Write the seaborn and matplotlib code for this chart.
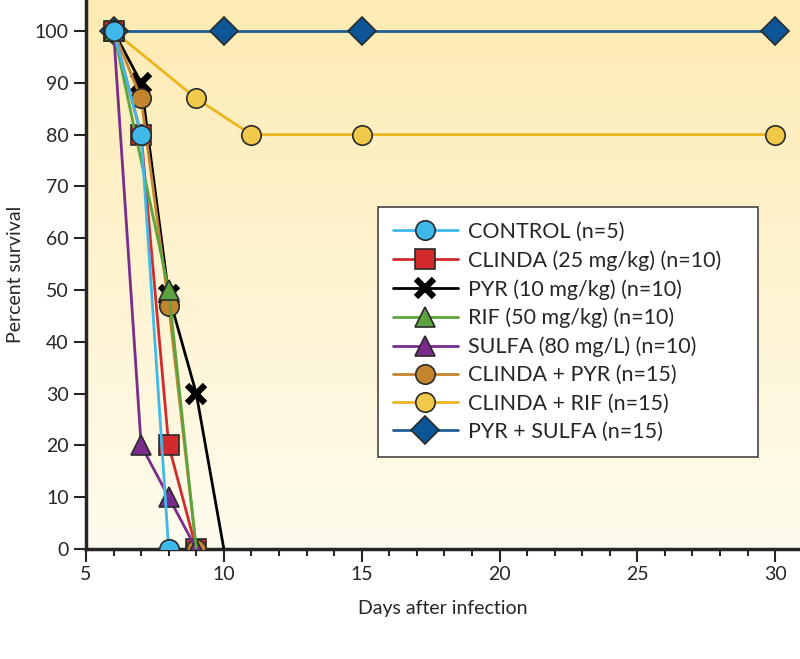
import numpy as np
import pandas as pd
import seaborn as sns
import matplotlib.pyplot as plt
from matplotlib.colors import LinearSegmentedColormap
from matplotlib.ticker import MultipleLocator

# Survival data
control_days = [6, 7, 8]
control_surv = [100, 80, 0]
clinda_days = [6, 7, 8, 9]
clinda_surv = [100, 80, 20, 0]
pyr_days = [6, 7, 8, 9, 10]
pyr_surv = [100, 90, 49, 30, 0]
rif_days = [6, 8, 9]
rif_surv = [100, 50, 0]
sulfa_days = [6, 7, 8, 9]
sulfa_surv = [100, 20, 10, 0]
clinda_pyr_days = [6, 7, 8, 9]
clinda_pyr_surv = [100, 87, 47, 0]
clinda_rif_days = [6, 9, 11, 15, 30]
clinda_rif_surv = [100, 87, 80, 80, 80]
pyr_sulfa_days = [6, 10, 15, 30]
pyr_sulfa_surv = [100, 100, 100, 100]

labels = ["CONTROL (n=5)", "CLINDA (25 mg/kg) (n=10)", "PYR (10 mg/kg) (n=10)",
          "RIF (50 mg/kg) (n=10)", "SULFA (80 mg/L) (n=10)", "CLINDA + PYR (n=15)",
          "CLINDA + RIF (n=15)", "PYR + SULFA (n=15)"]

sns.set_style("ticks")
plt.rcParams['font.family'] = ['Lato', 'DejaVu Sans']

series = [
    # days, surv, line color, face color, marker, size, zorder, markevery
    (control_days, control_surv, "#3fb8ec", "#3fb8ec", "o", 14, 10, None),
    (clinda_days, clinda_surv, "#d32a2e", "#d32a2e", "s", 14, 5, None),
    (pyr_days, pyr_surv, "#000000", "#000000", "x", 13, 4, [0, 1, 2, 3]),
    (rif_days, rif_surv, "#5ca43f", "#5ca43f", "^", 14, 8, [0, 1]),
    (sulfa_days, sulfa_surv, "#7a2c8c", "#7a2c8c", "^", 14, 7, None),
    (clinda_pyr_days, clinda_pyr_surv, "#c4852f", "#c4852f", "o", 14, 6, None),
    (clinda_rif_days, clinda_rif_surv, "#eab51f", "#f0c94b", "o", 14, 3, None),
    (pyr_sulfa_days, pyr_sulfa_surv, "#1f5e93", "#0c5597", "D", 14, 2, None),
]

fig = plt.figure(figsize=(8, 6.59), dpi=100)
ax = fig.add_axes([0.1075, 0.167, 0.8925, 0.833])

# gradient background
cmap = LinearSegmentedColormap.from_list("bg", ["#fffcee", "#fdebb3"])
grad = np.linspace(0, 1, 256).reshape(-1, 1)
ax.imshow(grad, aspect="auto", cmap=cmap, origin="lower",
          extent=[5, 30.9, 0, 106], zorder=0)

for (days, surv, lc, fc, mk, ms, z, every), lab in zip(series, labels):
    df = pd.DataFrame({"day": days, "surv": surv})
    if mk == "x":
        sns.lineplot(data=df, x="day", y="surv", ax=ax, color=lc, lw=2,
                     marker="x", markersize=ms, mew=4.5, markeredgecolor="black",
                     markevery=every, label=lab, zorder=z)
    else:
        sns.lineplot(data=df, x="day", y="surv", ax=ax, color=lc, lw=2,
                     marker=mk, markersize=ms, markerfacecolor=fc,
                     markeredgecolor="#2a2a2a", mew=1.2, markevery=every,
                     label=lab, zorder=z)

ax.set_xlim(5, 30.9)
ax.set_ylim(0, 106)
ax.set_yticks(range(0, 101, 10))
ax.xaxis.set_major_locator(MultipleLocator(5))
ax.xaxis.set_minor_locator(MultipleLocator(1))
ax.tick_params(axis="both", which="major", length=9, width=1.5, labelsize=14, direction="out")
ax.tick_params(axis="x", which="minor", length=5, width=1.5, direction="out")
for side in ["top", "right"]:
    ax.spines[side].set_visible(False)
for side in ["left", "bottom"]:
    ax.spines[side].set_linewidth(2.5)

ax.set_xlabel("Days after infection", fontsize=14, labelpad=12)
ax.set_ylabel("Percent survival", fontsize=14, labelpad=8)

leg = ax.legend(loc="upper left", bbox_to_anchor=(0.409, 0.162, 0.532, 0.461),
                mode="expand", borderaxespad=0, fontsize=15.5, frameon=True,
                fancybox=False, edgecolor="#444444", framealpha=1, handlelength=3,
                handletextpad=0.5, labelspacing=0.38, borderpad=0.7)
leg.get_frame().set_linewidth(1.2)

fig.savefig("out.png", dpi=100)
